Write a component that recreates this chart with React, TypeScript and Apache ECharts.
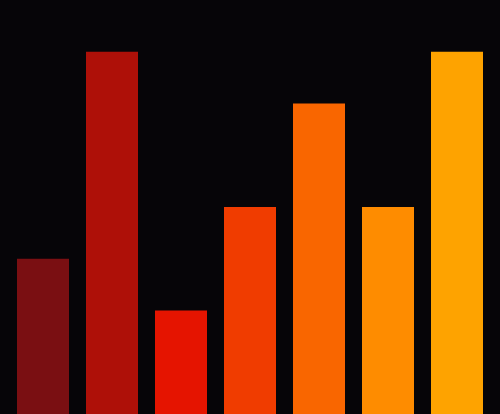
import * as echarts from 'echarts';
import { useEffect, useRef } from 'react';

// 类目与数值
const categories = ['A', 'B', 'C', 'D', 'E', 'F', 'G'];
const values = [3, 7, 2, 4, 6, 4, 7];
const barColors = ['#7a0f12', '#ae1008', '#e51400', '#f03c00', '#f96600', '#fe8c00', '#fea300'];

const getChartOptions = (): echarts.EChartsOption => ({
  animation: false,
  backgroundColor: '#060508',
  grid: {
    left: 8.5,
    right: 8.5,
    top: 0,
    bottom: 0,
  },
  xAxis: {
    type: 'category',
    data: categories,
    show: false,
  },
  yAxis: {
    type: 'value',
    min: 0,
    max: 8,
    show: false,
  },
  series: [
    {
      type: 'bar',
      barWidth: 52,
      data: values.map((v, i) => ({
        value: v,
        itemStyle: { color: barColors[i] },
      })),
    },
  ],
});

export default function App() {
  const chartRef = useRef<HTMLDivElement>(null);

  useEffect(() => {
    document.body.style.margin = '0';
    document.body.style.background = '#060508';
    if (!chartRef.current) return;
    const chart = echarts.init(chartRef.current, undefined, { renderer: 'svg' });
    chart.setOption(getChartOptions());
    return () => {
      chart.dispose();
    };
  }, []);

  return <div ref={chartRef} style={{ width: 500, height: 414 }} />;
}
